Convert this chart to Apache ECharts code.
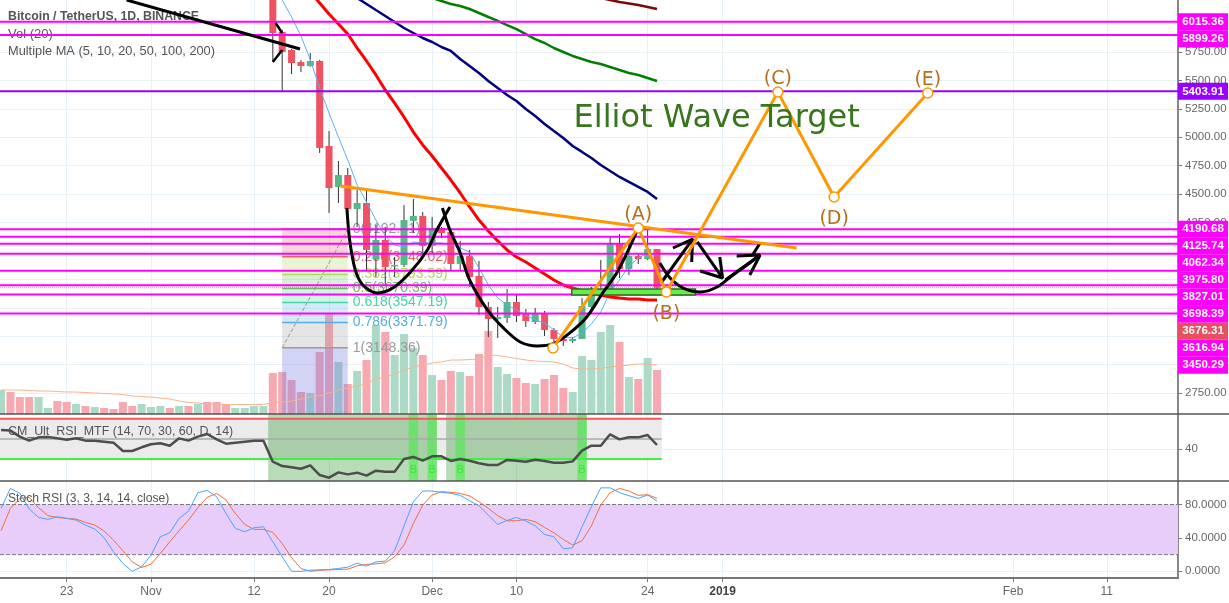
<!DOCTYPE html>
<html lang="en">

<head>
  <meta charset="UTF-8">
  <title>Bitcoin / TetherUS, 1D, BINANCE</title>
  <script src="https://cdn.jsdelivr.net/npm/echarts@6/dist/echarts.min.js"></script>
  <style>
    * {
      padding: 0;
      margin: 0;
    }

    #box {
      width: 1229px;
      height: 603px;
      background: #fff;
    }
  </style>
</head>

<body>
  <div id="box"></div>
  <script>
    // days are counted from 1 Nov 2018 = 0
    var xTicks = [-9, 0, 11, 19, 30, 39, 53, 61, 92, 102]
    var xTickLabels = ['23', 'Nov', '12', '20', 'Dec', '10', '24', '2019', 'Feb', '11']
    var priceTicks = [2750, 3000, 3250, 3500, 3750, 4000, 4250, 4500, 4750, 5000, 5250, 5500, 5750, 6000]

    // candles, 14 Nov to 25 Dec
    var candleStart = 13
    var candleOpen = [6400, 5926, 5768, 5662, 5627, 5671, 4923, 4563, 4668, 4369, 4422, 3929, 4097, 3868, 3877, 4264, 4308, 4044, 4202, 4167, 3885, 3956, 3780, 3507, 3402, 3411, 3551, 3446, 3375, 3454, 3305, 3226, 3208, 3226, 3507, 3630, 3648, 4061, 3841, 3956, 3929, 4017]
    var candleClose = [5917, 5750, 5653, 5627, 5671, 4906, 4554, 4668, 4369, 4422, 4009, 4097, 3859, 3877, 4272, 4308, 4044, 4202, 4158, 3885, 3956, 3771, 3507, 3402, 3419, 3551, 3428, 3384, 3454, 3305, 3226, 3208, 3226, 3516, 3657, 3666, 4061, 3841, 3956, 3929, 4017, 3676]
    var candleHigh = [6450, 5943, 5776, 5680, 5741, 5680, 5055, 4791, 4730, 4536, 4536, 4228, 4211, 3947, 4404, 4457, 4343, 4299, 4211, 4202, 4088, 4009, 3912, 3551, 3507, 3666, 3622, 3490, 3498, 3472, 3323, 3243, 3243, 3586, 3683, 3921, 4123, 4149, 4070, 3972, 4202, 4017]
    var candleLow = [5671, 5407, 5556, 5574, 5620, 4862, 4334, 4422, 4272, 4211, 3833, 3771, 3701, 3771, 3859, 4158, 3965, 3974, 4114, 3833, 3833, 3683, 3437, 3243, 3235, 3367, 3375, 3331, 3358, 3252, 3173, 3164, 3191, 3226, 3498, 3622, 3630, 3762, 3789, 3885, 3921, 3665]

    // moving averages, each from its own first visible day
    var maBlueStart = 13
    var maBlue = [6339, 6207, 6058, 5891, 5680, 5433, 5213, 5002, 4800, 4580, 4431, 4272, 4132, 4053, 4035, 4079, 4070, 4070, 4070, 4053, 4026, 3991, 3850, 3701, 3587, 3525, 3481, 3437, 3393, 3367, 3305, 3243, 3235, 3279, 3358, 3463, 3639, 3745, 3868, 3938, 3982, 3965]
    var maRedStart = 17
    var maRed = [6278, 6181, 6084, 5996, 5908, 5785, 5671, 5548, 5416, 5301, 5178, 5046, 4932, 4835, 4730, 4624, 4510, 4387, 4272, 4176, 4088, 4009, 3947, 3903, 3850, 3798, 3745, 3701, 3674, 3648, 3630, 3613, 3595, 3586, 3578, 3578, 3569, 3569]
    var maNavyStart = 22
    var maNavy = [6225, 6172, 6119, 6067, 6014, 5961, 5917, 5873, 5838, 5794, 5759, 5688, 5627, 5565, 5495, 5433, 5372, 5319, 5249, 5187, 5117, 5055, 4994, 4923, 4871, 4818, 4756, 4703, 4651, 4607, 4563, 4519, 4457]
    var maGreenStart = 30
    var maGreen = [6225, 6199, 6172, 6155, 6128, 6093, 6058, 6023, 5987, 5952, 5908, 5864, 5829, 5785, 5750, 5715, 5688, 5662, 5644, 5618, 5592, 5565, 5548, 5521, 5495]
    var maMaroonStart = 48
    var maMaroon = [6225, 6207, 6190, 6177, 6163, 6146, 6128]

    // volume, 16 Oct to 25 Dec (height on the hidden axis)
    var volumeStart = -16
    var volume = [24, 22, 17, 17, 17, 6, 13, 12, 10, 8, 7, 6, 5, 12, 8, 10, 7, 8, 6, 8, 8, 10, 12, 12, 10, 6, 6, 8, 8, 41, 42, 34, 22, 21, 62, 101, 52, 30, 43, 54, 89, 82, 59, 80, 66, 59, 39, 34, 43, 42, 38, 60, 83, 47, 40, 36, 31, 30, 35, 39, 26, 22, 58, 54, 82, 89, 72, 37, 35, 56, 44]
    var earlyVolumeUp = [1, 0, 0, 0, 1, 1, 0, 0, 1, 0, 1, 0, 0, 0, 0, 1, 1, 1, 0, 1, 0, 1, 0, 0, 0, 1, 1, 1, 1]
    var volumeMa = [24, 24, 24, 23.5, 23, 23, 22.5, 22, 22, 21.5, 21, 20.5, 20, 19.5, 18, 17.5, 17, 16, 15, 13, 11.5, 11, 10, 10, 9.5, 9.5, 9.5, 9.5, 9.5, 11.5, 12, 13, 15, 17, 18.5, 21, 24, 26, 28, 30, 35, 37, 40, 44, 47, 49, 51, 52, 54, 54, 54.5, 55, 59, 58.5, 57, 55.5, 54, 53, 52.5, 52, 50, 46, 45, 45, 45.5, 47, 48, 49, 50, 50, 49]

    // CM_Ult_RSI_MTF and Stoch RSI, same days as volume
    var rsi = [58.9, 58.3, 52.3, 48.3, 51.6, 52, 50.6, 49.3, 50.6, 48.3, 48.3, 47.3, 46.3, 38, 38, 41.7, 44.7, 45.7, 43.3, 50.6, 48.3, 52.3, 54.9, 49.6, 45.3, 46.3, 47.3, 48.3, 48.3, 27.4, 23.1, 21.8, 20.4, 23.8, 14.1, 11.5, 16.8, 14.8, 16.5, 13.5, 18.5, 17.5, 17.5, 30.1, 32.1, 28.4, 32.7, 32.7, 28.1, 30.1, 28.4, 25.8, 24.1, 24.1, 29.1, 28.4, 27.4, 29.4, 28.1, 26.4, 26.4, 27.7, 38.4, 43.3, 43.3, 54.6, 49.6, 51.6, 51.6, 53.9, 44]
    var oversoldRanges = [[12.5, 30.5], [31.5, 46.5]]
    var buyDays = [28, 30, 33, 46]
    var stochK = [75.4, 99.4, 93.4, 74.6, 64.6, 62.2, 65.4, 63.4, 61.4, 55.4, 50.6, 40.2, 23.4, 9.4, 0, 5.4, 19.4, 41.4, 46.2, 63.4, 72.2, 94.2, 97, 89.4, 69.4, 51.4, 47.4, 52.2, 53.4, 35.4, 17.4, 0, 0, 1.4, 1.8, 2.2, 3.4, 5, 9.8, 6.2, 11.4, 12.2, 24.6, 54.2, 83.4, 96.2, 96.2, 94.6, 93.4, 91, 84.6, 78.6, 67.4, 56.2, 61, 64.6, 60.2, 54.6, 44.2, 41.4, 27, 28.2, 53.4, 77.4, 100, 100, 94.2, 90.6, 87.4, 91.4, 84.2]
    var stochD = [48.6, 75.4, 87.4, 88.6, 76.2, 66.6, 64.6, 63.4, 62.6, 58.6, 55.4, 48.2, 37.4, 24.6, 11.4, 4.6, 8.6, 21.4, 35.4, 48.6, 61.4, 76.2, 88.6, 93.4, 85.4, 69.4, 56.2, 50.2, 50.2, 46.6, 33.4, 16.2, 3.4, 0, 1.2, 1.8, 2.2, 2.6, 6.6, 8.2, 9, 10.2, 17.4, 31.4, 57.4, 79.4, 91.4, 95.4, 94.6, 93.4, 90.2, 83.4, 75.4, 66.6, 60.6, 60.6, 62.2, 59.4, 52.6, 46.2, 38.2, 31.4, 36.6, 54.6, 79.4, 94.2, 99.4, 96.2, 91, 91.8, 87.4]

    // horizontal levels drawn on the chart
    var levelPrices = [6015.36, 5899.26, 5403.91, 4190.68, 4125.74, 4062.34, 3975.80, 3827.01, 3698.39, 3616.94, 3450.29]
    var levelColors = ['#ff00ff', '#ff00ff', '#9900ff', '#ff00ff', '#ff00ff', '#ff00ff', '#ff00ff', '#ff00ff', '#ff00ff', '#ff00ff', '#ff00ff']
    var lastPrice = 3676.31

    // fibonacci retracement
    var fibRatios = ['0', '0.236', '0.382', '0.5', '0.618', '0.786', '1']
    var fibPrices = [4192.41, 3948.02, 3793.59, 3670.39, 3547.19, 3371.79, 3148.36]
    var fibColors = ['#9a9a9a', '#e8606c', '#b3d65c', '#5fc35f', '#45d4a4', '#54aee2', '#9a9a9a']
    var fibZones = ['rgba(225,90,100,0.25)', 'rgba(175,215,90,0.28)', 'rgba(95,195,95,0.25)', 'rgba(70,210,165,0.25)', 'rgba(85,175,225,0.25)', 'rgba(150,150,150,0.25)']
    var fibStart = 14
    var fibEnd = 21

    // hand drawn lines, [day, price]
    var trendBlack = [[-2.6, 6207], [15.9, 5776]]
    var tickUpper = [[13.3, 6005], [14, 5917]]
    var tickLower = [[13, 5662], [14, 5768]]
    var cupOne = [[20.9, 4378], [21.2, 4097], [21.8, 3833], [22.6, 3701], [24.1, 3630], [25.8, 3674], [27.6, 3806], [29.5, 4009], [30.5, 4184], [31.9, 4387]]
    var cupTwo = [[31.1, 4378], [31.9, 4184], [33, 3982], [34, 3745], [35.9, 3481], [37.6, 3323], [39.4, 3199], [41.2, 3164], [42.9, 3182], [44.7, 3279], [46.5, 3419], [48.2, 3630], [49.7, 3806], [51.1, 4035], [52, 4202]]
    var cupThree = [[54.3, 3894], [55.4, 3762], [56.8, 3674], [58.6, 3639], [60.4, 3683], [62.1, 3789], [63.9, 3894], [65, 3965]]
    var arrowOne = [[54.5, 3727], [57.8, 4105]]
    var arrowOneHead = [[55.7, 4026], [57.8, 4105], [57.7, 3903]]
    var arrowTwo = [[58.3, 4079], [61, 3762]]
    var arrowTwoHead = [[58.6, 3824], [61, 3762], [60.7, 3947]]
    var arrowThree = [[61.3, 3745], [65, 3965]]
    var arrowThreeHead = [[62.5, 3956], [65, 3965], [63.9, 3789]]
    var arrowThreeTip = [[65, 4070], [64.2, 3965]]
    var trendOrange = [[20.2, 4571], [68.9, 4026]]
    var waveDays = [42.9, 52, 55, 66.9, 72.9, 82.9]
    var wavePrices = [3147, 4202, 3639, 5398, 4475, 5389]
    var waveNames = ['', '(A)', '(B)', '(C)', '(D)', '(E)']
    var supportBox = [44.9, 3613, 58.1, 3666]
    var noteText = 'Elliot Wave Target'
    var noteAt = [45.1, 5160]

    var xMin = -16.115
    var xMax = 109.6
    var upColor = '#53b987'
    var downColor = '#ef5362'
    var sansFont = 'Liberation Sans'
    var noteFont = 'DejaVu Sans'

    function fromDay(start, values) {
      return values.map(function (v, i) {
        return [start + i, v]
      })
    }

    function lineSeries(grid, yIdx, data, color, width, z, extra) {
      var s = {
        type: 'line',
        xAxisIndex: grid,
        yAxisIndex: yIdx,
        data: data,
        showSymbol: false,
        silent: true,
        z: z,
        lineStyle: { color: color, width: width },
        itemStyle: { color: color }
      }
      for (var k in extra) {
        s[k] = extra[k]
      }
      return s
    }

    // filled rectangles in data space: [x0, y0, x1, y1]
    function boxSeries(grid, yIdx, rows, colors, z, border) {
      return {
        type: 'custom',
        xAxisIndex: grid,
        yAxisIndex: yIdx,
        data: rows,
        clip: true,
        silent: true,
        z: z,
        encode: { x: [0, 2], y: [1, 3] },
        renderItem: function (params, api) {
          var a = api.coord([api.value(0), api.value(1)])
          var b = api.coord([api.value(2), api.value(3)])
          var style = { fill: colors[params.dataIndex % colors.length] }
          if (border) {
            style.stroke = border
            style.lineWidth = 1.5
          }
          return {
            type: 'rect',
            shape: { x: a[0], y: b[1], width: b[0] - a[0], height: a[1] - b[1] },
            style: style
          }
        }
      }
    }

    function xAxisFor(grid, showLabels) {
      return {
        type: 'value',
        gridIndex: grid,
        min: xMin,
        max: xMax,
        axisLine: { onZero: false, show: grid === 2, lineStyle: { color: '#777', width: 2 } },
        axisTick: { show: showLabels, customValues: xTicks, length: 4, lineStyle: { color: '#777' } },
        splitLine: { show: true, lineStyle: { color: '#e8f0f8', width: 1 } },
        axisLabel: {
          show: showLabels,
          customValues: xTicks,
          color: '#666',
          fontFamily: sansFont,
          fontSize: 12,
          margin: 8,
          formatter: function (v) {
            var label = xTickLabels[xTicks.indexOf(v)]
            return label === '2019' ? '{b|2019}' : label
          },
          rich: { b: { fontWeight: 'bold', color: '#444', fontFamily: sansFont, fontSize: 12 } }
        }
      }
    }

    function yAxisFor(grid, min, max, ticks, digits) {
      return {
        type: 'value',
        gridIndex: grid,
        position: 'right',
        min: min,
        max: max,
        axisLine: { show: true, onZero: false, lineStyle: { color: '#888', width: 2 } },
        axisTick: { show: true, customValues: ticks, length: 4, lineStyle: { color: '#777' } },
        splitLine: { show: true, lineStyle: { color: '#e8f0f8', width: 1 } },
        axisLabel: {
          customValues: ticks,
          color: '#666',
          fontFamily: sansFont,
          fontSize: 11.5,
          margin: 7,
          formatter: function (v) {
            return v.toFixed(digits)
          }
        }
      }
    }

    // candles with a dark wick and no body border
    var candleRows = candleOpen.map(function (o, i) {
      return [candleStart + i, o, candleClose[i], candleLow[i], candleHigh[i]]
    })
    var candleSeries = {
      type: 'custom',
      name: 'candles',
      xAxisIndex: 0,
      yAxisIndex: 0,
      data: candleRows,
      clip: true,
      silent: true,
      z: 4,
      encode: { x: 0, y: [1, 2, 3, 4] },
      renderItem: function (params, api) {
        var x = api.value(0)
        var o = api.coord([x, api.value(1)])
        var c = api.coord([x, api.value(2)])
        var l = api.coord([x, api.value(3)])
        var h = api.coord([x, api.value(4)])
        var top = Math.min(o[1], c[1])
        var height = Math.max(Math.abs(o[1] - c[1]), 1.5)
        return {
          type: 'group',
          children: [{
            type: 'line',
            shape: { x1: h[0], y1: h[1], x2: l[0], y2: l[1] },
            style: { stroke: '#333', lineWidth: 1 }
          }, {
            type: 'rect',
            shape: { x: o[0] - 3.5, y: top, width: 7, height: height },
            style: { fill: api.value(2) >= api.value(1) ? upColor : downColor }
          }]
        }
      }
    }

    var volumeRows = volume.map(function (v, i) {
      var day = volumeStart + i
      var up = i < earlyVolumeUp.length ? earlyVolumeUp[i] :
        candleClose[day - candleStart] >= candleOpen[day - candleStart]
      return {
        value: [day, v],
        itemStyle: { color: up ? '#abdac6' : '#f6a9b0' }
      }
    })

    // price tags on the scale, pushed down when they would overlap
    var tagPrices = levelPrices.concat([lastPrice]).sort(function (a, b) {
      return b - a
    })
    var tagSeries = {
      type: 'custom',
      xAxisIndex: 0,
      yAxisIndex: 0,
      data: tagPrices.map(function (p) {
        return [xMax, p]
      }),
      clip: false,
      silent: true,
      z: 20,
      renderItem: function (params, api) {
        var y = -100
        for (var i = 0; i <= params.dataIndex; i++) {
          y = Math.max(api.coord([xMax, tagPrices[i]])[1], y + 17)
        }
        var price = tagPrices[params.dataIndex]
        var fill = '#ff00ff'
        if (price === lastPrice) {
          fill = '#e8505f'
        } else if (price === 5403.91) {
          fill = '#9900ff'
        }
        var x = api.coord([xMax, price])[0]
        return {
          type: 'group',
          children: [{
            type: 'rect',
            shape: { x: x, y: y - 8.5, width: 50, height: 17 },
            style: { fill: fill }
          }, {
            type: 'text',
            style: {
              x: x + 25,
              y: y,
              text: price.toFixed(2),
              fill: '#fff',
              fontFamily: sansFont,
              fontSize: 11.5,
              fontWeight: 'bold',
              align: 'center',
              verticalAlign: 'middle'
            }
          }]
        }
      }
    }

    var fibSeries = {
      type: 'custom',
      xAxisIndex: 0,
      yAxisIndex: 0,
      data: fibPrices.map(function (p) {
        return [fibStart, p]
      }),
      clip: true,
      silent: true,
      z: 3,
      renderItem: function (params, api) {
        var i = params.dataIndex
        var a = api.coord([fibStart, fibPrices[i]])
        var b = api.coord([fibEnd, fibPrices[i]])
        return {
          type: 'group',
          children: [{
            type: 'line',
            shape: { x1: a[0], y1: a[1], x2: b[0], y2: b[1] },
            style: { stroke: fibColors[i], lineWidth: 1.5 }
          }, {
            type: 'text',
            style: {
              x: b[0] + 5,
              y: a[1],
              text: fibRatios[i] + '(' + fibPrices[i].toFixed(2) + ')',
              fill: fibColors[i],
              fontFamily: sansFont,
              fontSize: 14,
              verticalAlign: 'middle'
            }
          }]
        }
      }
    }

    var fibRows = fibZones.map(function (c, i) {
      return [fibStart, fibPrices[i + 1], fibEnd, fibPrices[i]]
    })

    var series = [
      // volume
      {
        type: 'bar',
        xAxisIndex: 0,
        yAxisIndex: 1,
        data: volumeRows,
        barWidth: 8,
        silent: true,
        z: 1
      },
      lineSeries(0, 1, fromDay(volumeStart, volumeMa), '#f7b48c', 1, 2),
      // fib
      boxSeries(0, 0, fibRows, fibZones, 2),
      boxSeries(0, 1, [[fibStart, 0, fibEnd, 66]], ['rgba(120,120,225,0.33)'], 2),
      lineSeries(0, 0, [[fibStart, fibPrices[6]], [fibEnd, fibPrices[0]]], '#999', 1, 3, {
        lineStyle: { color: '#999', width: 1, type: 'dashed' }
      }),
      fibSeries,
      candleSeries,
      // moving averages
      lineSeries(0, 0, fromDay(maBlueStart, maBlue), '#5aaefc', 1, 5),
      lineSeries(0, 0, fromDay(maRedStart, maRed), '#ff0000', 3, 5),
      lineSeries(0, 0, fromDay(maNavyStart, maNavy), '#000080', 2.5, 5),
      lineSeries(0, 0, fromDay(maGreenStart, maGreen), '#008000', 2.5, 5),
      lineSeries(0, 0, fromDay(maMaroonStart, maMaroon), '#7b0a0a', 2.5, 5),
      // last price
      lineSeries(0, 0, [[xMin, lastPrice], [xMax, lastPrice]], '#e8505f', 1, 6, {
        lineStyle: { color: '#e8505f', width: 1, type: 'dotted', opacity: 0.7 }
      }),
      // drawings
      boxSeries(0, 0, [supportBox], ['#66ee44'], 7, '#2e6b2e'),
      lineSeries(0, 0, trendBlack, '#000', 3, 8),
      lineSeries(0, 0, tickUpper, '#000', 2.5, 8),
      lineSeries(0, 0, tickLower, '#000', 2.5, 8),
      lineSeries(0, 0, cupOne, '#000', 3, 8, { smooth: 0.3 }),
      lineSeries(0, 0, cupTwo, '#000', 3, 8, { smooth: 0.3 }),
      lineSeries(0, 0, cupThree, '#000', 3, 8, { smooth: 0.3 }),
      lineSeries(0, 0, arrowOne, '#000', 3, 8),
      lineSeries(0, 0, arrowOneHead, '#000', 3, 8),
      lineSeries(0, 0, arrowTwo, '#000', 3, 8),
      lineSeries(0, 0, arrowTwoHead, '#000', 3, 8),
      lineSeries(0, 0, arrowThree, '#000', 3, 8),
      lineSeries(0, 0, arrowThreeHead, '#000', 3, 8),
      lineSeries(0, 0, arrowThreeTip, '#000', 3, 8),
      lineSeries(0, 0, trendOrange, '#ff9800', 3, 9),
      lineSeries(0, 0, waveDays.map(function (d, i) {
        var below = i === 2 || i === 4
        return {
          value: [d, wavePrices[i]],
          label: {
            show: waveNames[i] !== '',
            formatter: waveNames[i],
            position: below ? 'bottom' : 'top',
            distance: below ? 7 : -2,
            color: '#b5701a',
            fontFamily: noteFont,
            fontSize: 19
          }
        }
      }), '#ff9800', 3, 10, {
        showSymbol: true,
        symbol: 'circle',
        symbolSize: 10,
        itemStyle: { color: '#fff', borderColor: '#ff9800', borderWidth: 1.5 }
      }),
      // note text
      {
        type: 'scatter',
        xAxisIndex: 0,
        yAxisIndex: 0,
        data: [noteAt],
        symbolSize: 0,
        silent: true,
        z: 11,
        itemStyle: { opacity: 1 },
        label: {
          show: true,
          position: 'right',
          distance: 0,
          formatter: noteText,
          color: '#38761d',
          fontFamily: noteFont,
          fontSize: 32
        }
      },
      // rsi pane
      boxSeries(1, 2, [[xMin, 30, 54.5, 70]], ['#ebebeb'], 1),
      boxSeries(1, 2, oversoldRanges.map(function (r) {
        return [r[0], 0, r[1], 100]
      }), ['rgba(0,128,0,0.28)'], 2),
      boxSeries(1, 2, buyDays.map(function (d) {
        return [d - 0.5, 0, d + 0.5, 100]
      }), ['rgba(60,240,60,0.55)'], 3),
      lineSeries(1, 2, [[xMin, 70], [54.5, 70]], '#f05a5a', 2, 4),
      lineSeries(1, 2, [[xMin, 50], [54.5, 50]], '#aaa', 1.5, 4),
      lineSeries(1, 2, [[xMin, 30], [54.5, 30]], '#44ee44', 2, 4),
      lineSeries(1, 2, fromDay(volumeStart, rsi), '#4d4d4d', 2.5, 5),
      {
        type: 'scatter',
        xAxisIndex: 1,
        yAxisIndex: 2,
        data: buyDays.map(function (d) {
          return [d, 19]
        }),
        symbolSize: 0,
        silent: true,
        z: 6,
        itemStyle: { opacity: 1 },
        label: {
          show: true,
          position: 'inside',
          formatter: 'B',
          color: '#33e833',
          fontFamily: sansFont,
          fontSize: 11
        }
      },
      // stoch pane
      boxSeries(2, 3, [[xMin, 20, xMax, 80]], ['#e8cdfb'], 1),
      lineSeries(2, 3, [[xMin, 80], [xMax, 80]], '#777', 1, 2, {
        lineStyle: { color: '#777', width: 1, type: 'dashed' }
      }),
      lineSeries(2, 3, [[xMin, 20], [xMax, 20]], '#777', 1, 2, {
        lineStyle: { color: '#777', width: 1, type: 'dashed' }
      }),
      lineSeries(2, 3, fromDay(volumeStart, stochD), '#f0703a', 1, 3),
      lineSeries(2, 3, fromDay(volumeStart, stochK), '#4aa3ff', 1, 4),
      tagSeries
    ]

    // one line series per horizontal level
    levelPrices.forEach(function (p, i) {
      series.push(lineSeries(0, 0, [[xMin, p], [xMax, p]], levelColors[i], 2, 6))
    })

    function legendText(text, top, size, bold) {
      return {
        text: text,
        left: 8,
        top: top,
        padding: 0,
        textStyle: {
          color: '#555',
          fontFamily: sansFont,
          fontSize: size,
          fontWeight: bold ? 'bold' : 'normal'
        }
      }
    }

    var mCharts = echarts.init(document.getElementById('box'))
    var option = {
      animation: false,
      backgroundColor: '#fff',
      title: [
        legendText('Bitcoin / TetherUS, 1D, BINANCE', 11, 12.3, true),
        legendText('Vol (20)', 28, 13, false),
        legendText('Multiple MA (5, 10, 20, 50, 100, 200)', 45, 12.8, false),
        legendText('CM_Ult_RSI_MTF (14, 70, 30, 60, D, 14)', 426, 12.4, false),
        legendText('Stoch RSI (3, 3, 14, 14, close)', 493, 12.1, false)
      ],
      grid: [
        { left: 0, right: 51, top: 0, height: 414, outerBoundsMode: 'none' },
        { left: 0, right: 51, top: 414, height: 67, outerBoundsMode: 'none' },
        { left: 0, right: 51, top: 481, height: 97, outerBoundsMode: 'none' }
      ],
      xAxis: [xAxisFor(0, false), xAxisFor(1, false), xAxisFor(2, true)],
      yAxis: [
        yAxisFor(0, 2566, 6207.3, priceTicks, 2),
        { type: 'value', gridIndex: 0, min: 0, max: 414, show: false },
        yAxisFor(1, 8.2, 74.8, [40], 0),
        yAxisFor(2, -8, 108.2, [0, 40, 80], 4)
      ],
      series: series,
      graphic: [
        { type: 'line', z: 30, shape: { x1: 0, y1: 414, x2: 1229, y2: 414 }, style: { stroke: '#555', lineWidth: 1.5 } },
        { type: 'line', z: 30, shape: { x1: 0, y1: 481, x2: 1229, y2: 481 }, style: { stroke: '#555', lineWidth: 1.5 } }
      ]
    }
    mCharts.setOption(option)
  </script>
</body>

</html>
